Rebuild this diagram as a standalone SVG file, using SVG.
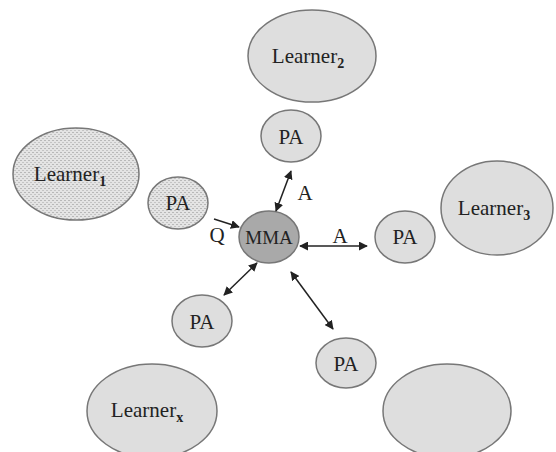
<svg xmlns="http://www.w3.org/2000/svg" width="556" height="452" viewBox="0 0 556 452">
<style>
.n{fill:#dedede;stroke:#777;stroke-width:1.5}
.d{fill:url(#dots);stroke:#777;stroke-width:1.5}
.m{fill:#a9a9a9;stroke:#777;stroke-width:1.5}
.t{font-family:"Liberation Serif","Times New Roman","DejaVu Serif",serif;font-size:21px;fill:#222;text-anchor:middle}
.s{font-size:14px;font-weight:bold}
.c{stroke:#222;stroke-width:1.5;fill:none}
</style>
<defs>
<pattern id="dots" width="4" height="4" patternUnits="userSpaceOnUse">
<rect width="4" height="4" fill="#e4e4e4"/>
<rect x="0" y="0" width="2" height="1" fill="#b8b8b8"/>
<rect x="2" y="2" width="2" height="1" fill="#c4c4c4"/>
</pattern>
<marker id="ah" viewBox="0 0 10 10" refX="9" refY="5" markerWidth="9" markerHeight="9" markerUnits="userSpaceOnUse" orient="auto-start-reverse">
<path d="M0,0 L10,5 L0,10 z" fill="#222"/>
</marker>
</defs>
<g id="learner1"><ellipse class="d" cx="76" cy="174" rx="63" ry="46"/><text class="t" font-family="Liberation Serif, serif" x="70" y="181">Learner<tspan class="s" dy="5">1</tspan></text></g>
<g id="pa1"><ellipse class="d" cx="178" cy="203" rx="30" ry="26"/><text class="t" font-family="Liberation Serif, serif" x="178" y="210">PA</text></g>
<g id="learner2"><ellipse class="n" cx="312" cy="56" rx="64" ry="46"/><text class="t" font-family="Liberation Serif, serif" x="308" y="63">Learner<tspan class="s" dy="5">2</tspan></text></g>
<g id="pa2"><ellipse class="n" cx="291" cy="136" rx="30" ry="26"/><text class="t" font-family="Liberation Serif, serif" x="291" y="144">PA</text></g>
<g id="mma"><ellipse class="m" cx="269" cy="237" rx="30" ry="26"/><text class="t" font-family="Liberation Serif, serif" x="269" y="244" style="font-size:19px">MMA</text></g>
<g id="pa3"><ellipse class="n" cx="405" cy="237" rx="30" ry="26"/><text class="t" font-family="Liberation Serif, serif" x="405" y="244">PA</text></g>
<g id="learner3"><ellipse class="n" cx="497" cy="208" rx="56" ry="47"/><text class="t" font-family="Liberation Serif, serif" x="494" y="215">Learner<tspan class="s" dy="5">3</tspan></text></g>
<g id="pa4"><ellipse class="n" cx="202" cy="321" rx="30" ry="26"/><text class="t" font-family="Liberation Serif, serif" x="202" y="329">PA</text></g>
<g id="learnerx"><ellipse class="n" cx="152" cy="411" rx="65" ry="47"/><text class="t" font-family="Liberation Serif, serif" x="147" y="417">Learner<tspan class="s" dy="5">x</tspan></text></g>
<g id="pa5"><ellipse class="n" cx="346" cy="363" rx="30" ry="25"/><text class="t" font-family="Liberation Serif, serif" x="346" y="371">PA</text></g>
<g id="blank"><ellipse class="n" cx="447" cy="411" rx="64" ry="47"/></g>
<g id="connectors">
<line class="c" x1="214" y1="219" x2="239" y2="227" marker-end="url(#ah)"/>
<line class="c" x1="276" y1="211" x2="291" y2="171" marker-start="url(#ah)" marker-end="url(#ah)"/>
<line class="c" x1="300" y1="246" x2="367" y2="246" marker-start="url(#ah)" marker-end="url(#ah)"/>
<line class="c" x1="257" y1="263" x2="224" y2="295" marker-start="url(#ah)" marker-end="url(#ah)"/>
<line class="c" x1="291" y1="272" x2="333" y2="329" marker-start="url(#ah)" marker-end="url(#ah)"/>
<text class="t" font-family="Liberation Serif, serif" x="217" y="242">Q</text>
<text class="t" font-family="Liberation Serif, serif" x="305" y="200">A</text>
<text class="t" font-family="Liberation Serif, serif" x="340" y="243">A</text>
</g>
</svg>
